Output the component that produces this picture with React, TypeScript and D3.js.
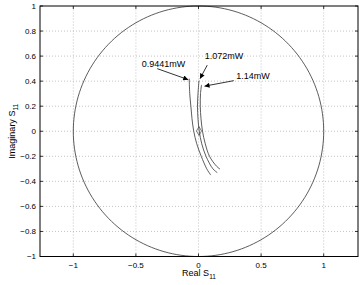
import React from 'react';
import * as d3 from 'd3';

// axis ticks
const xTicks = [-1, -0.5, 0, 0.5, 1];
const yTicks = [-1, -0.8, -0.6, -0.4, -0.2, 0, 0.2, 0.4, 0.6, 0.8, 1];

// S11 traces, [real, imag]
const trace0944 = [[-0.074, 0.42], [-0.070, 0.3], [-0.061, 0.2], [-0.052, 0.1], [-0.038, 0], [-0.014, -0.1], [0.022, -0.2], [0.066, -0.3], [0.098, -0.35]];
const trace1072 = [[0.004, 0.405], [-0.004, 0.3], [-0.008, 0.2], [-0.004, 0.1], [0.006, 0], [0.026, -0.1], [0.060, -0.2], [0.115, -0.3], [0.150, -0.33]];
const trace114 = [[0.024, 0.37], [0.016, 0.3], [0.014, 0.2], [0.020, 0.1], [0.032, 0], [0.054, -0.1], [0.088, -0.2], [0.145, -0.28], [0.172, -0.302]];
const traces = [trace0944, trace1072, trace114];

const marker = [0.004, 0.002];

// labels: text, text pos, arrow start, arrow end
const labels = ['0.9441mW', '1.072mW', '1.14mW'];
const labelPos = [[-0.453, 0.538], [0.05, 0.6], [0.302, 0.446]];
const arrowFrom = [[-0.33, 0.5], [0.07, 0.528], [0.282, 0.404]];
const arrowTo = [[-0.082, 0.412], [0.012, 0.42], [0.048, 0.36]];

const W = 361, H = 285;
const fmt = (v: number) => (v < 0 ? '\u2212' : '') + String(Math.abs(v));

export default function App() {
  const x = d3.scaleLinear().domain([-1.266, 1.274]).range([40, 358]);
  const y = d3.scaleLinear().domain([-1, 1]).range([256.5, 6]);
  const [x0, x1] = x.range();
  const [y0, y1] = y.range();

  const line = d3.line<number[]>().x(d => x(d[0])).y(d => y(d[1]));
  const circle = d3.range(0, 361, 2).map(a => [Math.cos(a * Math.PI / 180), Math.sin(a * Math.PI / 180)]);
  const diamond = d3.symbol(d3.symbolDiamond, 22)();

  return (
    <svg width={W} height={H} style={{ position: 'absolute', left: 0, top: 0, background: '#fff' }}
      fontFamily="'Liberation Sans', Arial, sans-serif">
      <defs>
        <marker id="ah" viewBox="0 0 10 10" refX="10" refY="5" markerWidth="7" markerHeight="5"
          markerUnits="userSpaceOnUse" orient="auto">
          <path d="M0,0 L10,5 L0,10 z" fill="#000" />
        </marker>
      </defs>
      {/* grid */}
      {xTicks.map(t => (
        <line key={'gx' + t} x1={x(t)} x2={x(t)} y1={y0} y2={y1} stroke="#aaa" strokeWidth={0.7} strokeDasharray="1,2" />
      ))}
      {yTicks.filter(t => t > -1 && t < 1).map(t => (
        <line key={'gy' + t} x1={x0} x2={x1} y1={y(t)} y2={y(t)} stroke="#aaa" strokeWidth={0.7} strokeDasharray="1,2" />
      ))}

      {/* unit circle */}
      <path d={line.curve(d3.curveLinear)(circle) || ''} fill="none" stroke="#333" strokeWidth={0.8} />

      {/* traces */}
      {traces.map((tr, i) => (
        <path key={'t' + i} d={line.curve(d3.curveCatmullRom)(tr) || ''} fill="none" stroke="#333" strokeWidth={0.8} />
      ))}
      <path d={diamond || ''} transform={`translate(${x(marker[0])},${y(marker[1])})`} fill="none" stroke="#444" strokeWidth={0.7} />

      {/* annotations */}
      {labels.map((l, i) => (
        <g key={'l' + i}>
          <line x1={x(arrowFrom[i][0])} y1={y(arrowFrom[i][1])} x2={x(arrowTo[i][0])} y2={y(arrowTo[i][1])}
            stroke="#000" strokeWidth={0.8} markerEnd="url(#ah)" />
          <text x={x(labelPos[i][0])} y={y(labelPos[i][1])} dy="0.35em" fontSize={9}>{l}</text>
        </g>
      ))}

      {/* box */}
      <rect x={x0} y={y1} width={x1 - x0} height={y0 - y1} fill="none" stroke="#000" strokeWidth={1} />
      {xTicks.map(t => (
        <g key={'xt' + t}>
          <line x1={x(t)} x2={x(t)} y1={y0} y2={y0 - 3} stroke="#000" strokeWidth={0.8} />
          <line x1={x(t)} x2={x(t)} y1={y1} y2={y1 + 3} stroke="#000" strokeWidth={0.8} />
          <text x={x(t)} y={y0 + 11} textAnchor="middle" fontSize={8}>{fmt(t)}</text>
        </g>
      ))}
      {yTicks.map(t => (
        <g key={'yt' + t}>
          <line x1={x0} x2={x0 + 3} y1={y(t)} y2={y(t)} stroke="#000" strokeWidth={0.8} />
          <line x1={x1} x2={x1 - 3} y1={y(t)} y2={y(t)} stroke="#000" strokeWidth={0.8} />
          <text x={x0 - 4} y={y(t)} dy="0.35em" textAnchor="end" fontSize={8}>{fmt(t)}</text>
        </g>
      ))}

      {/* axis labels */}
      <text x={(x0 + x1) / 2} y={276} textAnchor="middle" fontSize={9}>
        Real S<tspan fontSize={6.5} dy={3}>11</tspan>
      </text>
      <text transform={`translate(15,${(y0 + y1) / 2}) rotate(-90)`} textAnchor="middle" fontSize={9}>
        Imaginary S<tspan fontSize={6.5} dy={3}>11</tspan>
      </text>
    </svg>
  );
}
